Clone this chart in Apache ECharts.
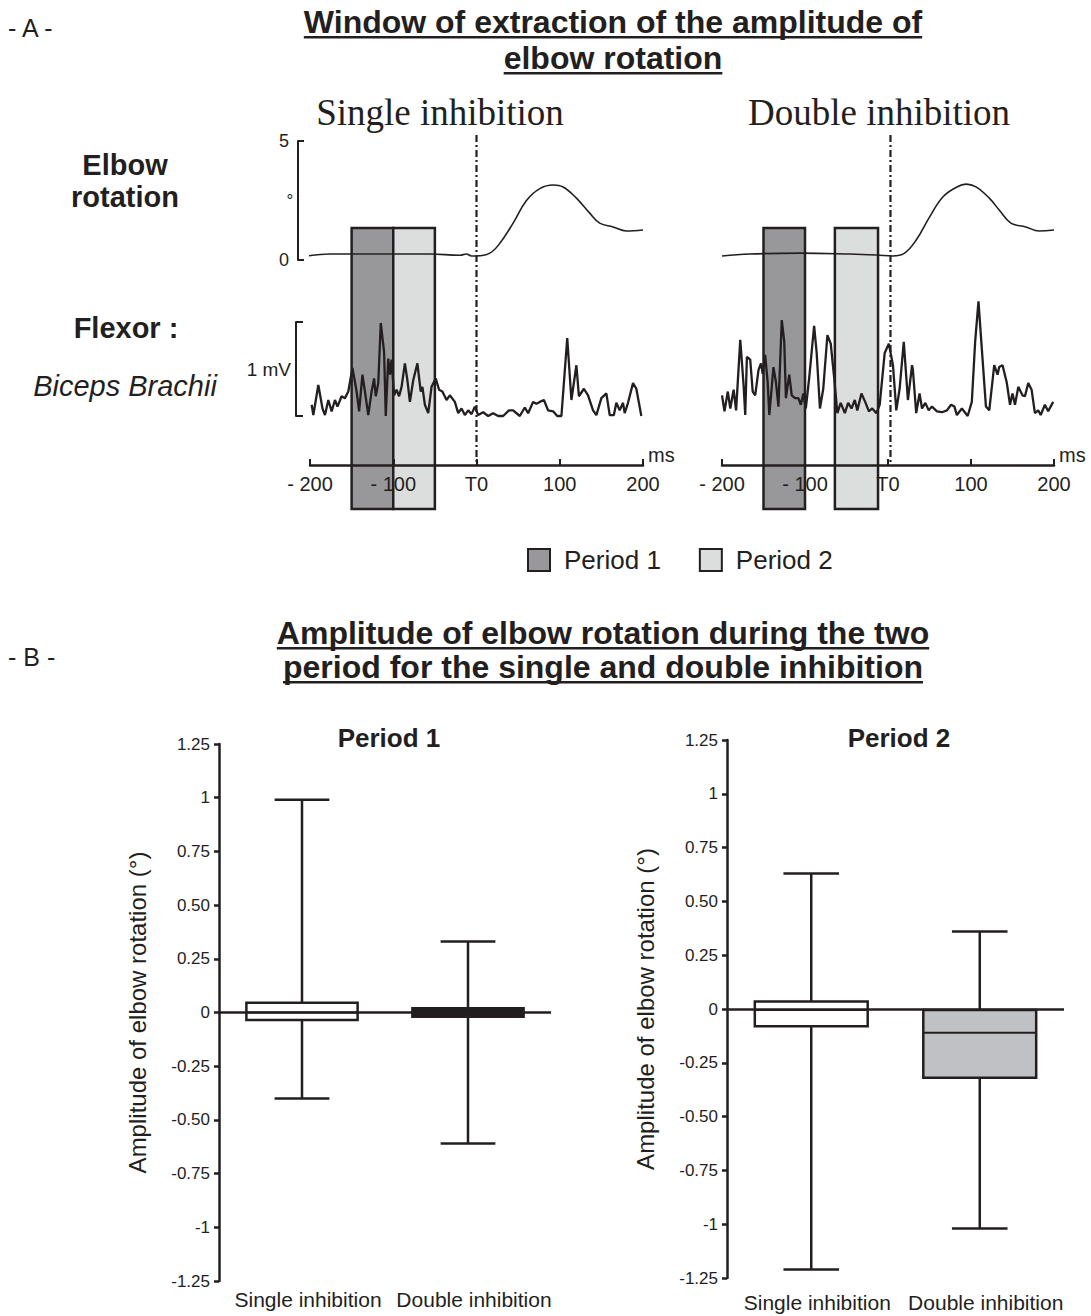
<!DOCTYPE html>
<html><head><meta charset="utf-8">
<script src="https://cdn.jsdelivr.net/npm/echarts@6/dist/echarts.min.js"></script>
<style>html,body{margin:0;padding:0;background:#fff}#c{width:1091px;height:1316px}</style>
</head><body><div id="c"></div>
<script>
// ---------- DATA ----------
const timeTicks = [-200, -100, 0, 100, 200];
const timeTickLabels = ['- 200', '- 100', 'T0', '100', '200'];

// Elbow rotation (degrees) vs time (ms)
const elbowSingle = [[-208,0.14],[-176,0.25],[-116,0.25],[-56,0.25],[-20,0.2],[-12,0.25],[-6,0.17],[0,0.17],[16,0.29],[28,0.7],[44,1.55],[60,2.5],[76,3.0],[92,3.15],[104,3.07],[120,2.6],[136,1.97],[148,1.55],[164,1.39],[180,1.22],[200,1.26]];
const elbowDouble = [[-200,0.17],[-167,0.25],[-106,0.29],[-46,0.25],[-14,0.21],[6,0.17],[20,0.29],[34,0.84],[50,1.8],[66,2.65],[83,3.07],[94,3.19],[106,3.07],[122,2.6],[134,2.1],[148,1.55],[166,1.39],[182,1.22],[200,1.26]];

// Biceps brachii EMG (mV) vs time (ms)
const emgSingle = [[-198,0.12],[-196,0.01],[-190,0.33],[-185,0.08],[-182,0.01],[-178,0.17],[-174,0.05],[-170,0.17],[-167,0.10],[-162,0.21],[-158,0.19],[-154,0.26],[-149,0.51],[-144,0.26],[-141,0.05],[-137,0.44],[-134,0.26],[-130,0.01],[-126,0.26],[-123,0.40],[-121,0.21],[-118,0.35],[-115,0.99],[-111,0.68],[-109,0.0],[-106,0.61],[-104,0.44],[-102,0.60],[-99,0.22],[-96,0.28],[-93,0.21],[-90,0.31],[-86,0.56],[-83,0.38],[-80,0.15],[-76,0.38],[-71,0.56],[-67,0.26],[-65,0.31],[-62,0.12],[-58,0.03],[-54,0.31],[-49,0.40],[-45,0.28],[-41,0.26],[-36,0.17],[-32,0.22],[-26,0.15],[-22,0.03],[-18,0.08],[-14,0.01],[-10,0.06],[-6,0.02],[-2,0.10],[2,0.01],[8,0.04],[14,0.0],[20,0.03],[26,0.0],[32,0.0],[39,0.06],[44,0.06],[52,0.0],[58,0.09],[62,0.03],[68,0.15],[72,0.13],[76,0.15],[81,0.17],[86,0.06],[92,0.05],[97,0.0],[102,0.0],[109,0.83],[114,0.17],[120,0.54],[123,0.21],[129,0.29],[134,0.22],[140,0.06],[144,0.01],[150,0.19],[156,0.24],[160,0.01],[165,0.01],[168,0.14],[172,0.06],[176,0.14],[178,0.03],[182,0.14],[188,0.35],[192,0.29],[198,0.0]];
const emgDouble = [[-200,0.22],[-197,0.05],[-193,0.26],[-190,0.08],[-186,0.28],[-183,0.06],[-178,0.81],[-174,0.33],[-172,0.01],[-170,0.63],[-166,0.60],[-163,0.26],[-160,0.22],[-156,0.49],[-153,0.56],[-151,0.45],[-148,0.65],[-145,0.36],[-143,0.01],[-138,0.52],[-135,0.36],[-132,0.10],[-128,1.02],[-125,0.79],[-123,0.19],[-119,0.44],[-116,0.22],[-112,0.19],[-108,0.19],[-105,0.12],[-102,0.24],[-99,0.08],[-95,0.40],[-89,0.96],[-86,0.68],[-82,0.08],[-78,0.29],[-73,0.86],[-69,0.77],[-65,0.42],[-61,0.03],[-57,0.14],[-52,0.03],[-48,0.14],[-44,0.08],[-40,0.17],[-37,0.06],[-32,0.24],[-27,0.14],[-23,0.05],[-19,0.08],[-14,0.03],[-10,0.12],[-4,0.67],[1,0.77],[6,0.54],[10,0.06],[14,0.29],[19,0.79],[24,0.17],[29,0.54],[30,0.49],[34,0.03],[38,0.24],[41,0.08],[45,0.14],[49,0.06],[53,0.10],[59,0.05],[65,0.04],[71,0.06],[76,0.12],[80,0.10],[83,0.01],[89,0.08],[96,0.0],[101,0.15],[105,0.79],[109,1.22],[113,0.72],[118,0.10],[122,0.06],[128,0.54],[132,0.44],[134,0.52],[138,0.54],[143,0.36],[147,0.12],[150,0.24],[153,0.12],[157,0.31],[162,0.22],[165,0.21],[169,0.35],[173,0.28],[177,0.03],[181,0.06],[184,0.01],[189,0.12],[193,0.05],[199,0.15]];

// Extraction windows [start, end] in ms
const periodsSingle = [[-150, -100], [-100, -50]];
const periodsDouble = [[-150, -100], [-64, -12]];
const t0Single = 0;
const t0Double = 3;

// Box plots: [min, Q1, median, Q3, max] (degrees)
const boxCategories = ['Single inhibition', 'Double inhibition'];
const boxPeriod1 = [[-0.40, -0.035, 0.0, 0.045, 0.99], [-0.61, -0.02, 0.0, 0.02, 0.33]];
const boxPeriod2 = [[-1.21, -0.08, -0.005, 0.035, 0.63], [-1.02, -0.32, -0.11, -0.005, 0.36]];
const ampTickLabels = ['-1.25', '-1', '-0.75', '-0.50', '-0.25', '0', '0.25', '0.50', '0.75', '1', '1.25'];

// ---------- STYLE ----------
const INK = '#231f20';
const SANS = '"Liberation Sans", Arial, sans-serif';
const SERIF = '"Liberation Serif", "Times New Roman", serif';
const P1_FILL = '#98989a';
const P2_FILL = '#dcdddd';

const chart = echarts.init(document.getElementById('c'), null, {renderer: 'svg', width: 1091, height: 1316});

const mctx = document.createElement('canvas').getContext('2d');
function textW(text, size, weight) {
  mctx.font = (weight || 'normal') + ' ' + size + 'px "Liberation Sans"';
  return mctx.measureText(text).width;
}

function txt(text, x, y, size, opts) {
  opts = opts || {};
  return {type: 'text', x: x, y: y, z: 100, silent: true, style: {
    text: text, fontSize: size, fontFamily: opts.family || SANS, fontWeight: opts.weight || 'normal',
    fontStyle: opts.style || 'normal', fill: INK, align: opts.align || 'center', verticalAlign: 'middle'
  }};
}
function underlinedTitle(text, cx, cy, size, gap) {
  const w = textW(text, size, 'bold');
  return [txt(text, cx, cy, size, {weight: 'bold'}),
    {type: 'rect', z: 100, silent: true, shape: {x: cx - w / 2, y: cy + gap, width: w, height: 2.5}, style: {fill: INK}}];
}

const graphic = [].concat(
  [txt('- A -', 8, 28, 25, {align: 'left'})],
  underlinedTitle('Window of extraction of the amplitude of', 613, 22, 32, 14),
  underlinedTitle('elbow rotation', 613, 58, 32, 14),
  [txt('Single inhibition', 440, 112, 37, {family: SERIF}),
   txt('Double inhibition', 879, 112, 37, {family: SERIF}),
   txt('Elbow', 125, 165, 29, {weight: 'bold'}),
   txt('rotation', 125, 197, 29, {weight: 'bold'}),
   txt('°', 290, 200, 17),
   txt('Flexor :', 126, 328, 29, {weight: 'bold'}),
   txt('Biceps Brachii', 125, 386, 29, {style: 'italic'}),
   txt('- B -', 8, 657, 25, {align: 'left'})],
  underlinedTitle('Amplitude of elbow rotation during the two', 603, 633, 32, 14),
  underlinedTitle('period for the single and double inhibition', 603, 667, 32, 14),
  [txt('Period 1', 389, 738, 26, {weight: 'bold'}),
   txt('Period 2', 899, 738, 26, {weight: 'bold'})]
);

// ---------- GRIDS ----------
const colL = {left: 310, width: 333};
const colR = {left: 722, width: 332};
function colGrids(c) {
  return [
    {left: c.left, width: c.width, top: 141, height: 119},  // elbow
    {left: c.left, width: c.width, top: 322, height: 94},   // emg
    {left: c.left, width: c.width, top: 135, height: 330},  // time axis + T0
    {left: c.left, width: c.width, top: 228, height: 281}   // windows
  ];
}
const grid = [].concat(colGrids(colL), colGrids(colR), [
  {left: 219, width: 332, top: 744, height: 537},
  {left: 727, width: 337, top: 740, height: 538}
]);

function timeAxis(gi, show) {
  const ax = {type: 'value', gridIndex: gi, min: -200, max: 200, interval: 100, show: show};
  if (show) {
    Object.assign(ax, {
      z: 10,
      axisLine: {onZero: false, lineStyle: {color: INK, width: 2.5}},
      axisTick: {inside: true, length: 6, lineStyle: {color: INK, width: 2}},
      splitLine: {show: false},
      axisLabel: {fontSize: 20, fontFamily: SANS, color: INK, margin: 9,
        formatter: v => timeTickLabels[timeTicks.indexOf(v)]},
      name: 'ms', nameLocation: 'end', nameGap: 5,
      nameTextStyle: {fontSize: 20, fontFamily: SANS, color: INK, verticalAlign: 'bottom', align: 'left'}
    });
  }
  return ax;
}
const hiddenY = (gi, max) => ({type: 'value', gridIndex: gi, min: 0, max: max, show: false});

const catAxis = (gi, margin) => ({
  type: 'category', gridIndex: gi, data: boxCategories,
  axisLine: {show: false, onZero: false}, axisTick: {show: false},
  axisLabel: {interval: 0, fontSize: 21, fontFamily: SANS, color: INK, margin: margin, padding: [0, 0, 0, 12]}
});
const ampAxis = (gi) => ({
  type: 'value', gridIndex: gi, min: -1.25, max: 1.25, interval: 0.25,
  axisLine: {show: true, onZero: false, lineStyle: {color: INK, width: 2.5}},
  axisTick: {show: true, length: 5, lineStyle: {color: INK, width: 2.5}},
  splitLine: {show: false},
  axisLabel: {fontSize: 17, fontFamily: SANS, color: INK, margin: 9,
    formatter: v => ampTickLabels[Math.round((v + 1.25) / 0.25)]},
  name: 'Amplitude of elbow rotation (°)', nameLocation: 'middle', nameGap: 70,
  nameTextStyle: {fontSize: 24, fontFamily: SANS, color: INK}
});

const xAxis = [
  timeAxis(0, false), timeAxis(1, false), timeAxis(2, true), timeAxis(3, false),
  timeAxis(4, false), timeAxis(5, false), timeAxis(6, true), timeAxis(7, false),
  catAxis(8, 8), catAxis(9, 14)
];
const yAxis = [
  {type: 'value', gridIndex: 0, min: 0, max: 5, interval: 5, position: 'left', offset: 12,
   axisLine: {show: true, onZero: false, lineStyle: {color: INK, width: 2}},
   axisTick: {show: true, inside: true, length: 6, lineStyle: {color: INK, width: 2}},
   splitLine: {show: false},
   axisLabel: {fontSize: 18, fontFamily: SANS, color: INK, margin: 9}},
  {type: 'value', gridIndex: 1, min: 0, max: 1, interval: 1, position: 'left', offset: 14,
   axisLine: {show: true, onZero: false, lineStyle: {color: INK, width: 2}},
   axisTick: {show: true, inside: true, length: 7, lineStyle: {color: INK, width: 2}},
   splitLine: {show: false}, axisLabel: {show: false},
   name: '1 mV', nameLocation: 'middle', nameRotate: 0, nameGap: 5,
   nameTextStyle: {fontSize: 19, fontFamily: SANS, color: INK}},
  hiddenY(2, 1), hiddenY(3, 1),
  hiddenY(4, 5), hiddenY(5, 1), hiddenY(6, 1), hiddenY(7, 1),
  ampAxis(8), ampAxis(9)
];

// ---------- RENDERERS ----------
function periodRender(fill) {
  return function (params, api) {
    const p0 = api.coord([api.value(0), 1]);
    const p1 = api.coord([api.value(1), 0]);
    return {type: 'rect', shape: {x: p0[0], y: p0[1], width: p1[0] - p0[0], height: p1[1] - p0[1]},
      style: {fill: fill, stroke: INK, lineWidth: 2.5}};
  };
}
function t0Render(params, api) {
  const a = api.coord([api.value(0), 1]);
  const b = api.coord([api.value(0), 0]);
  return {type: 'line', shape: {x1: a[0], y1: a[1], x2: b[0], y2: b[1]},
    style: {stroke: INK, lineWidth: 2.2, lineDash: [7, 3, 2, 3]}};
}
function boxRender(fills) {
  return function (params, api) {
    const i = api.value(0);
    const band = api.size([1, 0])[0];
    const bw = band * 0.67, cw = band * 0.33;
    const cx = api.coord([i, 0])[0];
    const y = k => api.coord([i, api.value(k)])[1];
    const yMin = y(1), yQ1 = y(2), yMed = y(3), yQ3 = y(4), yMax = y(5);
    const ls = {stroke: INK, lineWidth: 2.5};
    return {type: 'group', children: [
      {type: 'line', shape: {x1: cx, y1: yQ3, x2: cx, y2: yMax}, style: ls},
      {type: 'line', shape: {x1: cx, y1: yQ1, x2: cx, y2: yMin}, style: ls},
      {type: 'line', shape: {x1: cx - cw / 2, y1: yMax, x2: cx + cw / 2, y2: yMax}, style: ls},
      {type: 'line', shape: {x1: cx - cw / 2, y1: yMin, x2: cx + cw / 2, y2: yMin}, style: ls},
      {type: 'rect', shape: {x: cx - bw / 2, y: yQ3, width: bw, height: yQ1 - yQ3},
        style: {fill: fills[params.dataIndex], stroke: INK, lineWidth: 2.5}},
      {type: 'line', shape: {x1: cx - bw / 2, y1: yMed, x2: cx + bw / 2, y2: yMed}, style: {stroke: INK, lineWidth: 2}}
    ]};
  };
}
const zeroLine = {silent: true, symbol: 'none', label: {show: false},
  lineStyle: {color: INK, width: 2.5, type: 'solid'}, data: [{yAxis: 0}]};

const lineSeries = (xi, data, width, smooth) => ({
  type: 'line', xAxisIndex: xi, yAxisIndex: xi, data: data, showSymbol: false, symbol: 'none',
  smooth: smooth, clip: false, z: 3, silent: true,
  lineStyle: {color: INK, width: width}
});

const series = [
  {name: 'Period 1', type: 'custom', xAxisIndex: 3, yAxisIndex: 3, z: 1, silent: true, data: [periodsSingle[0]], renderItem: periodRender(P1_FILL)},
  {name: 'Period 2', type: 'custom', xAxisIndex: 3, yAxisIndex: 3, z: 1, silent: true, data: [periodsSingle[1]], renderItem: periodRender(P2_FILL)},
  {name: 'Period 1', type: 'custom', xAxisIndex: 7, yAxisIndex: 7, z: 1, silent: true, data: [periodsDouble[0]], renderItem: periodRender(P1_FILL)},
  {name: 'Period 2', type: 'custom', xAxisIndex: 7, yAxisIndex: 7, z: 1, silent: true, data: [periodsDouble[1]], renderItem: periodRender(P2_FILL)},
  lineSeries(0, elbowSingle, 1.6, 0.4),
  lineSeries(1, emgSingle, 2.3, false),
  lineSeries(4, elbowDouble, 1.6, 0.4),
  lineSeries(5, emgDouble, 2.3, false),
  {type: 'custom', xAxisIndex: 2, yAxisIndex: 2, z: 4, silent: true, data: [[t0Single]], renderItem: t0Render},
  {type: 'custom', xAxisIndex: 6, yAxisIndex: 6, z: 4, silent: true, data: [[t0Double]], renderItem: t0Render},
  {type: 'custom', xAxisIndex: 8, yAxisIndex: 8, silent: true,
   data: boxPeriod1.map((d, i) => [i].concat(d)), renderItem: boxRender(['#ffffff', '#1e1e1e']), markLine: zeroLine},
  {type: 'custom', xAxisIndex: 9, yAxisIndex: 9, silent: true,
   data: boxPeriod2.map((d, i) => [i].concat(d)), renderItem: boxRender(['#ffffff', '#c0c1c4']), markLine: zeroLine}
];

chart.setOption({
  animation: false,
  backgroundColor: '#ffffff',
  graphic: graphic,
  legend: {
    left: 527, top: 547, padding: 0, icon: 'rect', itemWidth: 22, itemHeight: 22, itemGap: 38,
    selectedMode: false,
    textStyle: {fontSize: 26, fontFamily: SANS, color: INK, padding: [0, 0, 0, 9]},
    data: [
      {name: 'Period 1', itemStyle: {color: P1_FILL, borderColor: INK, borderWidth: 2}},
      {name: 'Period 2', itemStyle: {color: P2_FILL, borderColor: INK, borderWidth: 2}}
    ]
  },
  grid: grid,
  xAxis: xAxis,
  yAxis: yAxis,
  series: series
});
</script></body></html>
